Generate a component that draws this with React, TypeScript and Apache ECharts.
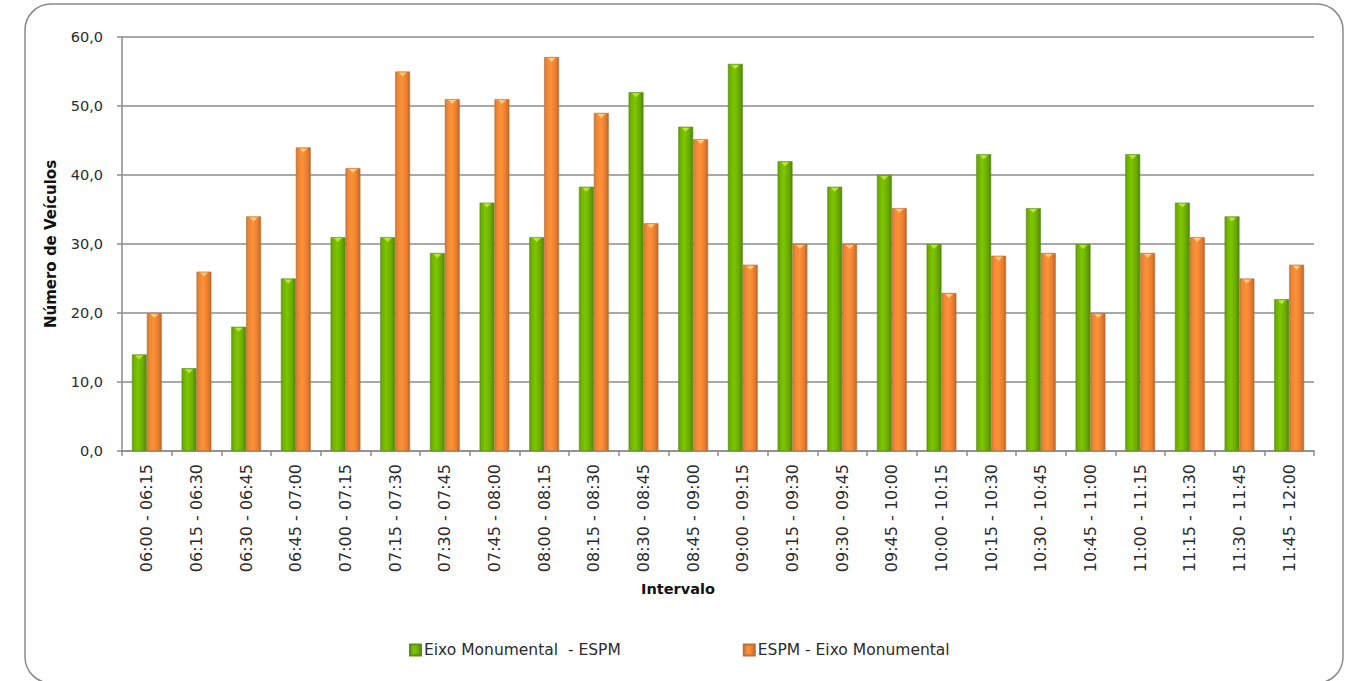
import React, { useEffect, useRef } from "react";
import * as echarts from "echarts";

const categories = [
  "06:00 - 06:15", "06:15 - 06:30", "06:30 - 06:45", "06:45 - 07:00",
  "07:00 - 07:15", "07:15 - 07:30", "07:30 - 07:45", "07:45 - 08:00",
  "08:00 - 08:15", "08:15 - 08:30", "08:30 - 08:45", "08:45 - 09:00",
  "09:00 - 09:15", "09:15 - 09:30", "09:30 - 09:45", "09:45 - 10:00",
  "10:00 - 10:15", "10:15 - 10:30", "10:30 - 10:45", "10:45 - 11:00",
  "11:00 - 11:15", "11:15 - 11:30", "11:30 - 11:45", "11:45 - 12:00",
];

const eixoEspm = [14, 12, 18, 25, 31, 31, 28.7, 36, 31, 38.3, 52, 47, 56.1, 42, 38.3, 40, 30, 43, 35.2, 30, 43, 36, 34, 22];
const espmEixo = [20, 26, 34, 44, 41, 55, 51, 51, 57.1, 49, 33, 45.2, 27, 30, 30, 35.2, 22.9, 28.3, 28.7, 20, 28.7, 31, 25, 27];

const seriesNames = ["Eixo Monumental  - ESPM", "ESPM - Eixo Monumental"];
const yTicks = { min: 0, max: 60, interval: 10 };

const FONT = "'DejaVu Sans', sans-serif";
const TXT = "#2b2b2b";

export default function App() {
  const ref = useRef<HTMLDivElement>(null);

  useEffect(() => {
    if (!ref.current) return;
    const chart = echarts.init(ref.current, null, { renderer: "svg" });

    const greenFill = new echarts.graphic.LinearGradient(0, 0, 1, 0, [
      { offset: 0, color: "#5e9a0e" },
      { offset: 0.12, color: "#6fb000" },
      { offset: 0.4, color: "#7ec600" },
      { offset: 0.75, color: "#6aab00" },
      { offset: 1, color: "#4f8600" },
    ]);
    const orangeFill = new echarts.graphic.LinearGradient(0, 0, 1, 0, [
      { offset: 0, color: "#c97436" },
      { offset: 0.15, color: "#ee8633" },
      { offset: 0.45, color: "#fc9138" },
      { offset: 0.78, color: "#ea7d2e" },
      { offset: 1, color: "#b9662b" },
    ]);

    const cap = "path://M0,0 L10,0 L5,5 Z";

    chart.setOption({
      animation: false,
      backgroundColor: "#ffffff",
      textStyle: { fontFamily: FONT },
      graphic: [
        {
          type: "rect",
          shape: { x: 25, y: 4, width: 1318, height: 679, r: 26 },
          style: { fill: "none", stroke: "#8a8a8a", lineWidth: 1.5 },
          silent: true,
          z: -10,
        },
      ],
      grid: { left: 122, right: 37, top: 37, bottom: 230, containLabel: false },
      legend: {
        data: seriesNames,
        left: 404,
        top: 637,
        itemWidth: 11,
        itemHeight: 11,
        itemGap: 122,
        icon: "rect",
        textStyle: { fontFamily: FONT, fontSize: 15.5, color: TXT, padding: [0, 0, 0, -2] },
      },
      xAxis: {
        type: "category",
        data: categories,
        name: "Intervalo",
        nameLocation: "middle",
        nameGap: 130,
        nameTextStyle: { fontFamily: FONT, fontSize: 14.5, fontWeight: "bold", color: "#111", padding: [0, 80, 0, 0] },
        axisLine: { lineStyle: { color: "#8c8c8c", width: 1.5 } },
        axisTick: { show: true, length: 5, lineStyle: { color: "#8c8c8c", width: 1.5 } },
        axisLabel: { rotate: 90, margin: 13, fontSize: 16, color: TXT, fontFamily: FONT, interval: 0 },
      },
      yAxis: {
        type: "value",
        min: yTicks.min,
        max: yTicks.max,
        interval: yTicks.interval,
        name: "Número de Veículos",
        nameLocation: "middle",
        nameGap: 64,
        nameTextStyle: { fontFamily: FONT, fontSize: 15, fontWeight: "bold", color: "#111" },
        axisLine: { show: true, lineStyle: { color: "#8c8c8c", width: 1.5 } },
        axisTick: { show: true, length: 5, lineStyle: { color: "#8c8c8c", width: 1.5 } },
        splitLine: { lineStyle: { color: "#8c8c8c", width: 1.5 } },
        axisLabel: {
          margin: 19,
          fontSize: 14.5,
          color: TXT,
          fontFamily: FONT,
          formatter: (v: number) => v.toFixed(1).replace(".", ","),
        },
      },
      series: [
        {
          name: seriesNames[0],
          type: "bar",
          data: eixoEspm,
          barGap: "0%",
          barCategoryGap: "40%",
          itemStyle: { color: greenFill, borderColor: "#5a8f1a", borderWidth: 0.6 },
        },
        {
          name: seriesNames[1],
          type: "bar",
          data: espmEixo,
          barGap: "0%",
          barCategoryGap: "40%",
          itemStyle: { color: orangeFill, borderColor: "#b8703c", borderWidth: 0.6 },
        },
        {
          name: "capG",
          type: "scatter",
          data: eixoEspm,
          symbol: cap,
          symbolSize: [8, 4],
          symbolOffset: [-7.5, 3],
          itemStyle: { color: "#c8f040" },
          silent: true,
          z: 5,
        },
        {
          name: "capO",
          type: "scatter",
          data: espmEixo,
          symbol: cap,
          symbolSize: [8, 4],
          symbolOffset: [7.5, 3],
          itemStyle: { color: "#ffd98a" },
          silent: true,
          z: 5,
        },
      ],
    });

    return () => chart.dispose();
  }, []);

  return (
    <div
      ref={ref}
      style={{ position: "fixed", left: 0, top: 0, width: 1351, height: 681 }}
    />
  );
}
